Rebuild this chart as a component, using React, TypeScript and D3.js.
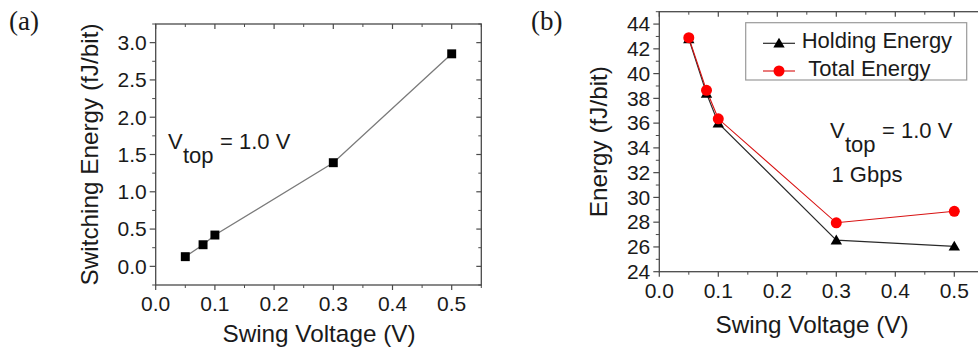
import React from "react";
import * as d3 from "d3";

const swingV = [0.05, 0.08, 0.1, 0.3, 0.5];
const switchingEnergy = [0.13, 0.29, 0.42, 1.39, 2.85];
const holdingEnergy = [42.8, 38.4, 36.0, 26.55, 26.05];
const totalEnergy = [42.9, 38.65, 36.35, 27.95, 28.88];
const xTicks = [0, 0.1, 0.2, 0.3, 0.4, 0.5];
const xMinor = [0.05, 0.15, 0.25, 0.35, 0.45, 0.55];
const yTicksA = [0, 0.5, 1.0, 1.5, 2.0, 2.5, 3.0];
const yMinorA = [-0.25, 0.25, 0.75, 1.25, 1.75, 2.25, 2.75, 3.25];
const yTicksB = [24, 26, 28, 30, 32, 34, 36, 38, 40, 42, 44];
const yMinorB = [25, 27, 29, 31, 33, 35, 37, 39, 41, 43, 45];

const SANS = "'Liberation Sans', Arial, sans-serif";
const SERIF = "'Liberation Serif', 'Times New Roman', serif";
const FRAME = "#4a4a4a";
const TXT = "#1a1a1a";
const TICK_FS = 21;
const TITLE_FS = 24.3;

type Sc = d3.ScaleLinear<number, number>;

function Frame({ x, y, fmt, yt, ym, clipRight }: { x: Sc; y: Sc; fmt: (v: number) => string; yt: number[]; ym: number[]; clipRight?: boolean }) {
  const [x0, x1] = x.range();
  const [y0, y1] = y.range(); // y0 bottom, y1 top
  const els: React.ReactNode[] = [];
  els.push(<rect key="fr" x={x0} y={y1} width={x1 - x0} height={y0 - y1} fill="none" stroke={FRAME} strokeWidth={1.3} />);
  xTicks.forEach((t, i) => {
    const px = x(t);
    els.push(<line key={"bx" + i} x1={px} x2={px} y1={y0} y2={y0 + 5} stroke={FRAME} strokeWidth={1.2} />);
    els.push(<line key={"tx" + i} x1={px} x2={px} y1={y1} y2={y1 + 5} stroke={FRAME} strokeWidth={1.2} />);
    els.push(
      <text key={"lx" + i} x={px} y={y0 + 26} textAnchor="middle" fontFamily={SANS} fontSize={TICK_FS} fill={TXT}>
        {t.toFixed(1)}
      </text>
    );
  });
  xMinor.forEach((t, i) => {
    const px = x(t);
    els.push(<line key={"bmx" + i} x1={px} x2={px} y1={y0} y2={y0 + 3} stroke={FRAME} strokeWidth={1} />);
    els.push(<line key={"tmx" + i} x1={px} x2={px} y1={y1} y2={y1 + 3} stroke={FRAME} strokeWidth={1} />);
  });
  yt.forEach((t, i) => {
    const py = y(t);
    els.push(<line key={"ly" + i} x1={x0 - 6} x2={x0} y1={py} y2={py} stroke={FRAME} strokeWidth={1.2} />);
    if (!clipRight) els.push(<line key={"ry" + i} x1={x1 - 5} x2={x1} y1={py} y2={py} stroke={FRAME} strokeWidth={1.2} />);
    els.push(
      <text key={"lt" + i} x={x0 - 9} y={py + 7.3} textAnchor="end" fontFamily={SANS} fontSize={TICK_FS} fill={TXT}>
        {fmt(t)}
      </text>
    );
  });
  ym.forEach((t, i) => {
    const py = y(t);
    els.push(<line key={"lmy" + i} x1={x0 - 3.5} x2={x0} y1={py} y2={py} stroke={FRAME} strokeWidth={1} />);
    if (!clipRight) els.push(<line key={"rmy" + i} x1={x1 - 3} x2={x1} y1={py} y2={py} stroke={FRAME} strokeWidth={1} />);
  });
  return <g>{els}</g>;
}

export default function App() {
  const xa = d3.scaleLinear().domain([0, 0.55]).range([155.7, 481.3]);
  const ya = d3.scaleLinear().domain([-0.25, 3.25]).range([285, 24]);
  const xb = d3.scaleLinear().domain([0, 0.55]).range([659.3, 983.8]);
  const yb = d3.scaleLinear().domain([24, 45]).range([271.7, 11.7]);

  const ptsA = swingV.map((v, i) => [v, switchingEnergy[i]] as [number, number]);
  const ptsH = swingV.map((v, i) => [v, holdingEnergy[i]] as [number, number]);
  const ptsT = swingV.map((v, i) => [v, totalEnergy[i]] as [number, number]);

  const lineA = d3.line<[number, number]>().x((d) => xa(d[0])).y((d) => ya(d[1]));
  const lineB = d3.line<[number, number]>().x((d) => xb(d[0])).y((d) => yb(d[1]));
  const square = d3.symbol().type(d3.symbolSquare).size(80)() as string;
  const tri = d3.symbol().type(d3.symbolTriangle).size(56)() as string;

  return (
    <div style={{ position: "absolute", left: 0, top: 0 }}>
      <svg width={978} height={347} style={{ display: "block", background: "#fff" }}>
        <text x={9} y={30} fontFamily={SERIF} fontSize={27} fill={TXT}>(a)</text>
        <text x={531} y={30} fontFamily={SERIF} fontSize={27} fill={TXT}>(b)</text>

        {/* Panel (a) */}
        <Frame x={xa} y={ya} fmt={(v) => v.toFixed(1)} yt={yTicksA} ym={yMinorA} />
        <path d={lineA(ptsA) as string} fill="none" stroke="#7a7a7a" strokeWidth={1.3} />
        {ptsA.map((d, i) => (
          <path key={"sq" + i} d={square} transform={`translate(${xa(d[0])},${ya(d[1])})`} fill="#000" />
        ))}
        <text x={319} y={342} textAnchor="middle" fontFamily={SANS} fontSize={TITLE_FS} fill={TXT}>Swing Voltage (V)</text>
        <text transform={`translate(97.5,${(ya.range()[0] + ya.range()[1]) / 2}) rotate(-90)`} textAnchor="middle" fontFamily={SANS} fontSize={TITLE_FS} fill={TXT}>
          Switching Energy (fJ/bit)
        </text>
        <text fontFamily={SANS} fontSize={22} fill={TXT}>
          <tspan x={168} y={149}>V</tspan>
          <tspan x={183} y={163}>top</tspan>
          <tspan x={220} y={149}>= 1.0 V</tspan>
        </text>

        {/* Panel (b) */}
        <Frame x={xb} y={yb} fmt={(v) => String(v)} yt={yTicksB} ym={yMinorB} clipRight />
        <path d={lineB(ptsH) as string} fill="none" stroke="#2a2a2a" strokeWidth={1.2} />
        <path d={lineB(ptsT) as string} fill="none" stroke="#d81010" strokeWidth={1.1} />
        {ptsH.map((d, i) => (
          <path key={"tr" + i} d={tri} transform={`translate(${xb(d[0])},${yb(d[1]) + 1})`} fill="#000" />
        ))}
        {ptsT.map((d, i) => (
          <circle key={"ci" + i} cx={xb(d[0])} cy={yb(d[1])} r={5.5} fill="#ff0000" />
        ))}
        <text x={812} y={333} textAnchor="middle" fontFamily={SANS} fontSize={TITLE_FS} fill={TXT}>Swing Voltage (V)</text>
        <text transform={`translate(606.5,${(yb.range()[0] + yb.range()[1]) / 2}) rotate(-90)`} textAnchor="middle" fontFamily={SANS} fontSize={TITLE_FS} fill={TXT}>
          Energy (fJ/bit)
        </text>
        <text fontFamily={SANS} fontSize={22} fill={TXT}>
          <tspan x={830} y={137.7}>V</tspan>
          <tspan x={845} y={152}>top</tspan>
          <tspan x={882} y={137.7}>= 1.0 V</tspan>
        </text>
        <text x={831.5} y={181.7} fontFamily={SANS} fontSize={22} fill={TXT}>1 Gbps</text>

        {/* Legend */}
        <rect x={745.7} y={22.7} width={221} height={57.3} fill="#fff" stroke="#9a9a9a" strokeWidth={1.2} />
        <line x1={763} x2={795} y1={43.3} y2={43.3} stroke="#2a2a2a" strokeWidth={1.2} />
        <path d={tri} transform="translate(779,44.3)" fill="#000" />
        <text x={801.7} y={48} fontFamily={SANS} fontSize={22} fill={TXT}>Holding Energy</text>
        <line x1={763} x2={795} y1={71} y2={71} stroke="#d81010" strokeWidth={1.1} />
        <circle cx={779} cy={71} r={5.5} fill="#ff0000" />
        <text x={808.3} y={75.5} fontFamily={SANS} fontSize={22} fill={TXT}>Total Energy</text>
      </svg>
    </div>
  );
}
